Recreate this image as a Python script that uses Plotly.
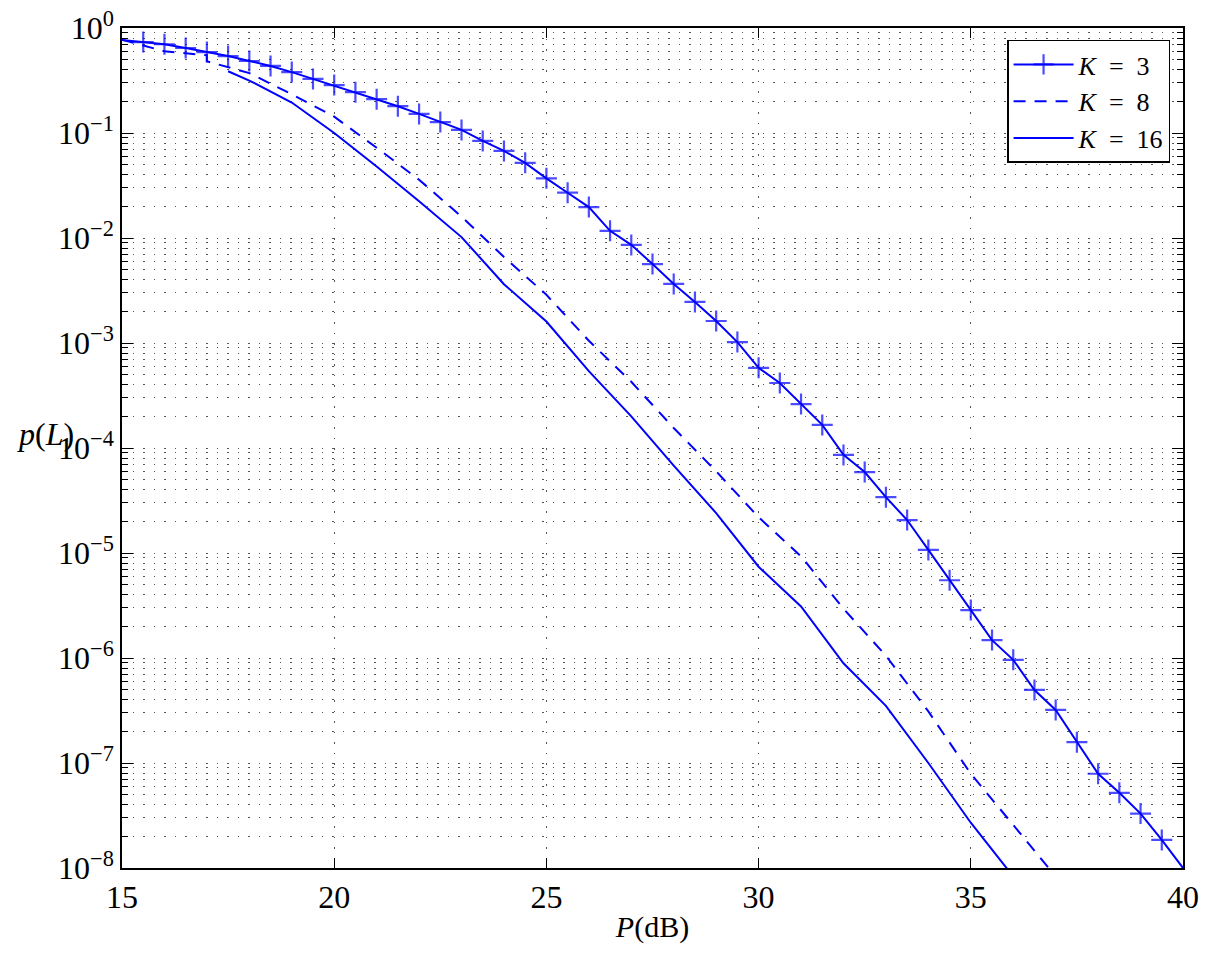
import plotly.graph_objects as go

# ---- data ----
p_k3 = [15, 15.5, 16, 16.5, 17, 17.5, 18, 18.5, 19, 19.5, 20, 20.5, 21, 21.5, 22, 22.5,
        23, 23.5, 24, 24.5, 25, 25.5, 26, 26.5, 27, 27.5, 28, 28.5, 29, 29.5, 30, 30.5,
        31, 31.5, 32, 32.5, 33, 33.5, 34, 34.5, 35, 35.5, 36, 36.5, 37, 37.5, 38, 38.5,
        39, 39.5, 40]
pl_k3 = [0.77, 0.735, 0.70, 0.645, 0.59, 0.54, 0.485, 0.435, 0.38, 0.327, 0.286, 0.245,
         0.21, 0.18, 0.152, 0.127, 0.107, 0.084, 0.0675, 0.052, 0.037, 0.027, 0.0197,
         0.0117, 0.0086, 0.00565, 0.00365, 0.00246, 0.00162, 0.00102, 5.8e-4, 4.16e-4,
         2.62e-4, 1.66e-4, 8.6e-5, 5.9e-5, 3.4e-5, 2.06e-5, 1.07e-5, 5.5e-6, 2.86e-6,
         1.48e-6, 9.6e-7, 4.96e-7, 3.2e-7, 1.58e-7, 7.9e-8, 5.2e-8, 3.3e-8, 1.85e-8, 1.0e-8]

p_k8 = [15, 16, 17, 17, 18, 19, 20, 21, 22, 23, 24, 25, 26, 27, 28, 29, 30, 31, 32, 33,
        34, 35, 36, 37]
pl_k8 = [0.774, 0.60, 0.55, 0.482, 0.372, 0.234, 0.143, 0.0724, 0.0359, 0.016, 0.0066,
         0.00288, 0.00105, 4.27e-4, 1.55e-4, 6.0e-5, 2.19e-5, 9.3e-6, 2.95e-6, 1.05e-6,
         3.1e-7, 7.9e-8, 2.57e-8, 8.3e-9]

p_k16 = [17.5, 18, 19, 20, 21, 22, 23, 24, 25, 26, 27, 28, 29, 30, 31, 32, 33, 34, 35, 36]
pl_k16 = [0.387, 0.316, 0.195, 0.1, 0.0479, 0.0224, 0.0102, 0.00363, 0.0016, 5.4e-4,
          2.0e-4, 6.8e-5, 2.4e-5, 7.4e-6, 3.1e-6, 8.9e-7, 3.5e-7, 1.0e-7, 2.7e-8, 8.3e-9]

names = ["<i>K</i>\u2002=\u20023", "<i>K</i>\u2002=\u20028", "<i>K</i>\u2002=\u200216"]
x_ticks = [15, 20, 25, 30, 35, 40]
y_exps = [0, -1, -2, -3, -4, -5, -6, -7, -8]

BLUE = "#0000FF"
FONT = "Liberation Serif, DejaVu Serif, serif"

fig = go.Figure()
marker_sizes = [0] + [15] * (len(p_k3) - 2) + [0]
fig.add_trace(go.Scatter(
    x=p_k3, y=pl_k3, name=names[0], mode="lines+markers",
    line=dict(color=BLUE, width=2),
    marker=dict(symbol="cross-thin", size=marker_sizes, color=BLUE,
                line=dict(color=BLUE, width=2.2)),
))
fig.add_trace(go.Scatter(
    x=p_k8, y=pl_k8, name=names[1], mode="lines",
    line=dict(color=BLUE, width=2, dash="12px,9px"),
))
fig.add_trace(go.Scatter(
    x=p_k16, y=pl_k16, name=names[2], mode="lines",
    line=dict(color=BLUE, width=2),
))

minor_vals = [m * 10.0 ** e for e in range(-8, 0) for m in range(2, 10)]
grid_dash = "1.5px,9px"
grid_col = "#555555"

# page body has an 8px margin; size/margins compensate so the axes sit where they do in the reference
fig.update_layout(
    width=1206, height=948,
    margin=dict(l=114, r=31, t=20, b=88, autoexpand=False),
    paper_bgcolor="white", plot_bgcolor="white",
    font=dict(family=FONT, size=30, color="black"),
    showlegend=True,
    legend=dict(
        x=0.988, y=0.986, xanchor="right", yanchor="top",
        bgcolor="white", bordercolor="black", borderwidth=1.3,
        font=dict(family=FONT, size=26), tracegroupgap=0,
        itemwidth=60,
    ),
    xaxis=dict(
        range=[15, 40], tickvals=x_ticks, ticktext=[str(v) for v in x_ticks],
        automargin=False,
        showline=True, linecolor="black", linewidth=1.5, mirror="ticks",
        ticks="inside", ticklen=10, tickwidth=1, tickcolor="black",
        showgrid=True, gridcolor=grid_col, gridwidth=1, griddash=grid_dash,
        zeroline=False,
        title=dict(text="<i>P</i>(dB)", font=dict(family=FONT, size=30), standoff=2),
        tickfont=dict(family=FONT, size=32),
    ),
    yaxis=dict(
        type="log", range=[-8, 0], automargin=False, ticklabeloverflow="allow",
        tickvals=[10.0 ** e for e in y_exps],
        ticktext=["10<sup>%s</sup>" % (str(e).replace("-", "\u2212")) for e in y_exps],
        showline=True, linecolor="black", linewidth=1.5, mirror="ticks",
        ticks="inside", ticklen=11, tickwidth=1, tickcolor="black",
        showgrid=True, gridcolor=grid_col, gridwidth=1, griddash=grid_dash,
        zeroline=False,
        tickfont=dict(family=FONT, size=32),
        minor=dict(tickvals=minor_vals, ticks="inside", ticklen=6, tickcolor="black",
                   showgrid=True, gridcolor=grid_col, gridwidth=1, griddash=grid_dash),
    ),
    annotations=[dict(
        text="<i>p</i>(<i>L</i>)", xref="paper", yref="paper",
        x=-0.072, y=0.517, xanchor="center", yanchor="middle",
        showarrow=False, font=dict(family=FONT, size=32),
    )],
)

fig.write_html("out.html")
